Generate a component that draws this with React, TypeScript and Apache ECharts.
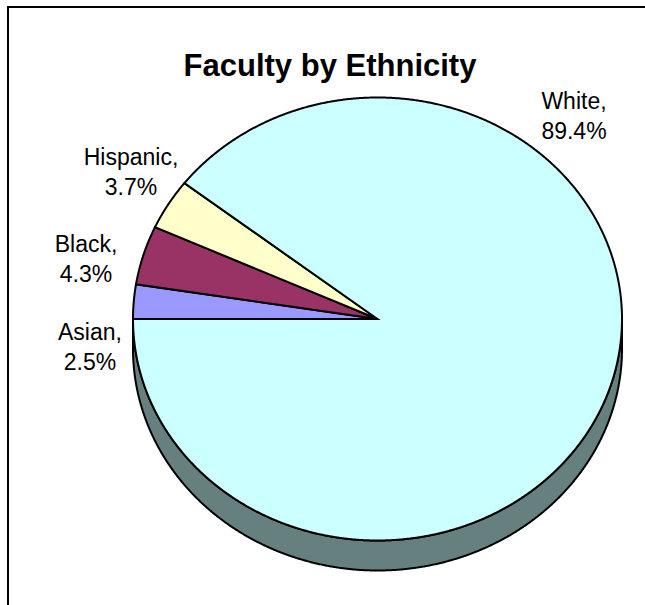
import React, { useEffect, useRef } from "react";
import * as echarts from "echarts";

// ---- data ----
const categories = ["Asian", "Black", "Hispanic", "White"];
const values = [2.5, 4.3, 3.7, 89.4];
const chartTitle = "Faculty by Ethnicity";

// ---- styles / layout ----
const topColors = ["#9999FF", "#993366", "#FFFFCC", "#CCFFFF"];
const sideColors = ["#4D4D80", "#4D1A33", "#808066", "#668080"];
const labelAnchors = [
  [90, 347],
  [86, 259],
  [131, 172],
  [574, 116],
];

const CX = 377.5;
const CY = 319;
const RX = 244.5;
const RY = 221.5;
const DEPTH = 30;
const FONT = '"Liberation Sans", Arial, Helvetica, sans-serif';

function ellPt(a: number, dy = 0): number[] {
  return [CX + RX * Math.cos(a), CY + RY * Math.sin(a) + dy];
}

function arcPts(a1: number, a2: number, dy = 0): number[][] {
  const n = Math.max(2, Math.ceil(Math.abs(a2 - a1) / (Math.PI / 720)));
  const pts: number[][] = [];
  for (let k = 0; k <= n; k++) pts.push(ellPt(a1 + ((a2 - a1) * k) / n, dy));
  return pts;
}

function sliceAngles(i: number, v: number): [number, number] {
  const total = values.reduce((a, b) => a + b, 0);
  let before = 0;
  for (let k = 0; k < i; k++) before += values[k];
  const a0 = Math.PI + (2 * Math.PI * before) / total;
  const a1 = Math.PI + (2 * Math.PI * (before + v)) / total;
  return [a0, a1];
}

export default function App() {
  const ref = useRef<HTMLDivElement>(null);

  useEffect(() => {
    if (!ref.current) return;
    const chart = echarts.init(ref.current, undefined, { renderer: "svg" });

    const sideRender = (params: any, api: any) => {
      const i = params.dataIndex;
      const v = api.value(0);
      const [s, e] = sliceAngles(i, v);
      const a1 = Math.max(s, 2 * Math.PI);
      const a2 = Math.min(e, 3 * Math.PI);
      if (a1 >= a2) return { type: "group", children: [] };
      const pts = arcPts(a1, a2, 0).concat(arcPts(a2, a1, DEPTH));
      return {
        type: "polygon",
        shape: { points: pts },
        style: {
          fill: sideColors[i],
          stroke: "#000000",
          lineWidth: 2,
          lineJoin: "round",
        },
      };
    };

    const topRender = (params: any, api: any) => {
      const i = params.dataIndex;
      const v = api.value(0);
      const [s, e] = sliceAngles(i, v);
      const pts = [[CX, CY]].concat(arcPts(s, e, 0));
      const [lx, ly] = labelAnchors[i];
      return {
        type: "group",
        children: [
          {
            type: "polygon",
            shape: { points: pts },
            style: {
              fill: topColors[i],
              stroke: "#000000",
              lineWidth: 2,
              lineJoin: "miter",
            },
          },
          {
            type: "text",
            x: lx,
            y: ly,
            style: {
              text: categories[i] + ",\n" + v.toFixed(1) + "%",
              fill: "#000000",
              font: "normal 23px " + FONT,
              align: "center",
              verticalAlign: "middle",
              textAlign: "center",
              textVerticalAlign: "middle",
              lineHeight: 29.5,
            },
          },
        ],
      };
    };

    chart.setOption({
      animation: false,
      backgroundColor: "#ffffff",
      graphic: [
        {
          type: "rect",
          shape: { x: 8, y: 7, width: 800, height: 800 },
          style: { fill: "none", stroke: "#000000", lineWidth: 2 },
          z: 0,
        },
        {
          type: "text",
          x: 330,
          y: 65,
          style: {
            text: chartTitle,
            fill: "#000000",
            font: "bold 31px " + FONT,
            align: "center",
            verticalAlign: "middle",
            textAlign: "center",
            textVerticalAlign: "middle",
          },
          z: 10,
        },
      ],
      series: [
        {
          type: "custom",
          coordinateSystem: "none",
          z: 1,
          silent: true,
          data: values.map((v) => [v]),
          renderItem: sideRender,
        },
        {
          type: "custom",
          coordinateSystem: "none",
          z: 2,
          silent: true,
          data: values.map((v) => [v]),
          renderItem: topRender,
        },
      ],
    });

    return () => chart.dispose();
  }, []);

  return (
    <div
      ref={ref}
      style={{ position: "absolute", left: 0, top: 0, width: 645, height: 605 }}
    />
  );
}
